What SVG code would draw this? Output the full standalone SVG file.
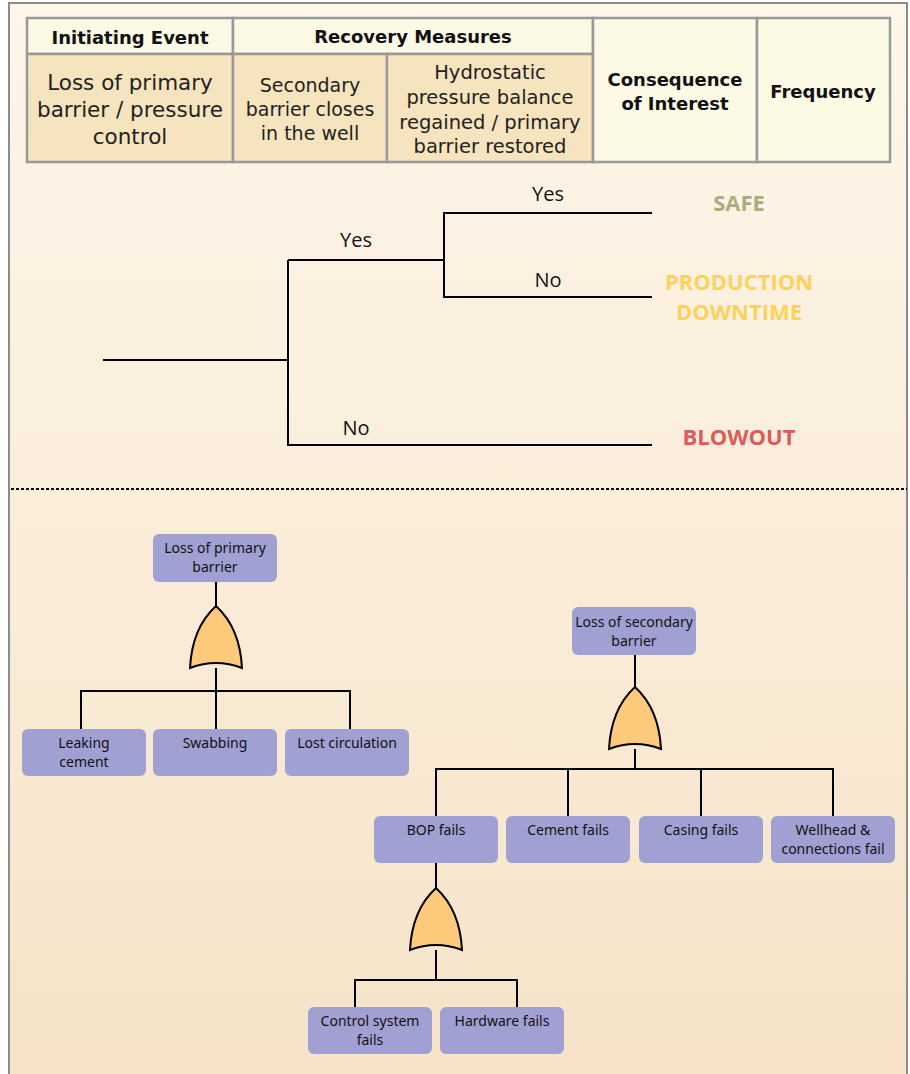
<svg xmlns="http://www.w3.org/2000/svg" width="910" height="1074" viewBox="0 0 910 1074">
<defs>
<linearGradient id="bg" x1="0" y1="0" x2="0" y2="1">
<stop offset="0" stop-color="#fef6ea"/>
<stop offset="1" stop-color="#f6e3c8"/>
</linearGradient>
<path id="orgate" d="M0,0 Q-24,22 -26,62 Q0,52 26,62 Q24,22 0,0 Z"/>
</defs>
<style>
.frame{fill:url(#bg);stroke:#8c8c8c;stroke-width:2}
.hdr{fill:#fcf9e5;stroke:#999;stroke-width:2.5}
.cell{fill:#f6e4bf;stroke:#999;stroke-width:2.5}
.th{font-family:"DejaVu Sans",sans-serif;font-weight:bold;font-size:18px;fill:#111;text-anchor:middle}
.td{font-family:"DejaVu Sans",sans-serif;font-size:21.5px;fill:#222;text-anchor:middle}
.td2{font-family:"DejaVu Sans",sans-serif;font-size:19px;fill:#222;text-anchor:middle}
.td3{font-family:"DejaVu Sans",sans-serif;font-size:19.5px;fill:#222;text-anchor:middle}
.ln{fill:none;stroke:#000;stroke-width:2}
.lbl{font-family:"Open Sans",sans-serif;font-size:20px;fill:#111;text-anchor:middle}
.out{font-family:"Open Sans",sans-serif;font-weight:bold;font-size:22px;text-anchor:middle}
.box{fill:#a1a0d3;rx:6}
.bt{font-family:"Noto Sans",sans-serif;font-size:14px;fill:#111;text-anchor:middle}
.gate{fill:#fdc97b;stroke:#000;stroke-width:2}
.con{fill:none;stroke:#000;stroke-width:2}
</style>
<rect class="frame" x="9" y="3" width="898" height="1080"/>

<g id="table">
<rect class="hdr" x="27" y="18" width="206" height="36"/>
<rect class="hdr" x="233" y="18" width="360" height="36"/>
<rect class="cell" x="27" y="54" width="206" height="108"/>
<rect class="cell" x="233" y="54" width="154" height="108"/>
<rect class="cell" x="387" y="54" width="206" height="108"/>
<rect class="hdr" x="593" y="18" width="164" height="144"/>
<rect class="hdr" x="757" y="18" width="133" height="144"/>
<text class="th" x="130" y="44" font-size="20">Initiating Event</text>
<text class="th" x="413" y="43">Recovery Measures</text>
<text class="td" x="130" y="90">Loss of primary</text>
<text class="td" x="130" y="117">barrier / pressure</text>
<text class="td" x="130" y="144">control</text>
<text class="td2" x="310" y="92">Secondary</text>
<text class="td2" x="310" y="116">barrier closes</text>
<text class="td2" x="310" y="140">in the well</text>
<text class="td3" x="490" y="79">Hydrostatic</text>
<text class="td3" x="490" y="104">pressure balance</text>
<text class="td3" x="490" y="129">regained / primary</text>
<text class="td3" x="490" y="153">barrier restored</text>
<text class="th" x="675" y="86">Consequence</text>
<text class="th" x="675" y="110">of Interest</text>
<text class="th" x="823" y="98">Frequency</text>
</g>

<g id="event-tree">
<path class="ln" d="M103,360 H288 M288,260 V446 M288,260 H444 M444,212 V298 M444,213 H652 M444,297 H652 M288,445 H652"/>
<text class="lbl" x="356" y="247">Yes</text>
<text class="lbl" x="548" y="201">Yes</text>
<text class="lbl" x="548" y="287">No</text>
<text class="lbl" x="356" y="435">No</text>
</g>
<g id="outcome-safe"><text class="out" x="739" y="211" fill="#a9ad7b">SAFE</text></g>
<g id="outcome-downtime"><text class="out" x="739" y="290" fill="#fcd25b">PRODUCTION</text><text class="out" x="739" y="320" fill="#fcd25b">DOWNTIME</text></g>
<g id="outcome-blowout"><text class="out" x="739" y="445" fill="#e05a59">BLOWOUT</text></g>

<line x1="11" y1="489" x2="907" y2="489" stroke="#000" stroke-width="2" stroke-dasharray="3,2"/>

<g id="connectors">
<path class="con" d="M216,582 V606 M216,668 V691 M81,691 H350 M81,690 V729 M216,690 V729 M350,690 V729"/>
<path class="con" d="M635,655 V687 M635,749 V769 M436,769 H833 M436,768 V816 M568,768 V816 M701,768 V816 M833,768 V816"/>
<path class="con" d="M436,863 V888 M436,950 V980 M355,980 H517 M355,979 V1007 M517,979 V1007"/>
</g>

<g id="gate1"><use href="#orgate" class="gate" x="216" y="606"/></g>
<g id="gate2"><use href="#orgate" class="gate" x="635" y="687"/></g>
<g id="gate3"><use href="#orgate" class="gate" x="436" y="888"/></g>

<g id="loss-primary"><rect class="box" x="153" y="534" width="124" height="48"/><text class="bt" x="215" y="553">Loss of primary</text><text class="bt" x="215" y="572">barrier</text></g>
<g id="leaking-cement"><rect class="box" x="22" y="729" width="124" height="47"/><text class="bt" x="84" y="748">Leaking</text><text class="bt" x="84" y="767">cement</text></g>
<g id="swabbing"><rect class="box" x="153" y="729" width="124" height="47"/><text class="bt" x="215" y="748">Swabbing</text></g>
<g id="lost-circulation"><rect class="box" x="285" y="729" width="124" height="47"/><text class="bt" x="347" y="748">Lost circulation</text></g>

<g id="loss-secondary"><rect class="box" x="572" y="607" width="124" height="48"/><text class="bt" x="634" y="627">Loss of secondary</text><text class="bt" x="634" y="646">barrier</text></g>
<g id="bop-fails"><rect class="box" x="374" y="816" width="124" height="47"/><text class="bt" x="436" y="835">BOP fails</text></g>
<g id="cement-fails"><rect class="box" x="506" y="816" width="124" height="47"/><text class="bt" x="568" y="835">Cement fails</text></g>
<g id="casing-fails"><rect class="box" x="639" y="816" width="124" height="47"/><text class="bt" x="701" y="835">Casing fails</text></g>
<g id="wellhead-fails"><rect class="box" x="771" y="816" width="124" height="47"/><text class="bt" x="833" y="835">Wellhead &amp;</text><text class="bt" x="833" y="854">connections fail</text></g>

<g id="control-system-fails"><rect class="box" x="308" y="1007" width="124" height="47"/><text class="bt" x="370" y="1026">Control system</text><text class="bt" x="370" y="1045">fails</text></g>
<g id="hardware-fails"><rect class="box" x="440" y="1007" width="124" height="47"/><text class="bt" x="502" y="1026">Hardware fails</text></g>
</svg>
